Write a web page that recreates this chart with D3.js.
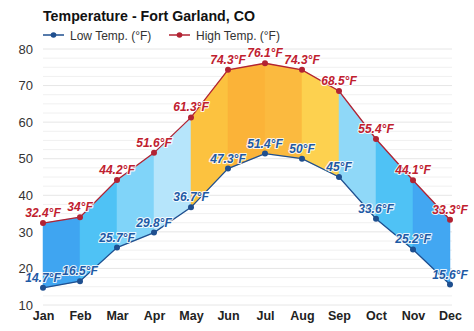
<!DOCTYPE html>
<html>
<head>
<meta charset="utf-8">
<script src="https://cdn.jsdelivr.net/npm/d3@7"></script>
<style>
  html, body { margin: 0; padding: 0; background: #fff; }
  svg { display: block; font-family: "Liberation Sans", Arial, sans-serif; }
</style>
</head>
<body>
<svg id="chart" width="474" height="331"></svg>
<script>
// Monthly averages for Fort Garland, CO
const months = ["Jan", "Feb", "Mar", "Apr", "May", "Jun", "Jul", "Aug", "Sep", "Oct", "Nov", "Dec"];
const highTemps = [32.4, 34, 44.2, 51.6, 61.3, 74.3, 76.1, 74.3, 68.5, 55.4, 44.1, 33.3];
const lowTemps = [14.7, 16.5, 25.7, 29.8, 36.7, 47.3, 51.4, 50, 45, 33.6, 25.2, 15.6];
const yTicks = [10, 20, 30, 40, 50, 60, 70, 80];

// Band colour between consecutive months (cold blues, warm oranges)
const bandColors = ["#3fa5f1", "#4fc2f5", "#80d4f9", "#b6e5fb", "#fcc23f", "#fbb338",
                    "#fbba3f", "#fdd14f", "#8fd8f8", "#4fc2f5", "#42a7f2"];

const svg = d3.select("#chart");
const x = d3.scalePoint().domain(months).range([43, 450]);
const y = d3.scaleLinear().domain([10, 80]).range([305, 49]);

// Light horizontal grid
const grid = svg.append("g");
grid.selectAll("line")
  .data(d3.range(10, 80.01, 2.5))
  .join("line")
  .attr("x1", 43).attr("x2", 452)
  .attr("y1", d => y(d)).attr("y2", d => y(d))
  .attr("stroke", d => d % 10 === 0 ? "#e6e6e6" : "#f0f0f0")
  .attr("stroke-width", 1);

// Y axis labels
const yAxis = svg.append("g")
  .attr("transform", "translate(33,0)")
  .call(d3.axisLeft(y).tickValues(yTicks).tickSize(0).tickPadding(0));
yAxis.select(".domain").remove();
yAxis.selectAll("text")
  .attr("font-size", 13)
  .attr("fill", "#333")
  .attr("font-family", "'Liberation Sans', Arial, sans-serif");

// X axis labels
const xAxis = svg.append("g")
  .attr("transform", "translate(0,311)")
  .call(d3.axisBottom(x).tickSize(0).tickPadding(0));
xAxis.select(".domain").remove();
xAxis.selectAll("text")
  .attr("font-size", 12.5)
  .attr("font-weight", "bold")
  .attr("fill", "#222")
  .attr("font-family", "'Liberation Sans', Arial, sans-serif");

// Filled bands between low and high for each month pair
const rows = months.map((m, i) => ({ m, hi: highTemps[i], lo: lowTemps[i] }));
const area = d3.area()
  .x(d => x(d.m))
  .y0(d => y(d.lo))
  .y1(d => y(d.hi));
svg.append("g").selectAll("path")
  .data(d3.range(months.length - 1))
  .join("path")
  .attr("d", i => area([rows[i], rows[i + 1]]))
  .attr("fill", i => bandColors[i])
  .attr("stroke", i => bandColors[i])
  .attr("stroke-width", 0.5);

// Lines and markers
const series = [
  { key: "lo", name: "Low Temp. (°F)", color: "#1f4f8f", label: "#1f5aa5" },
  { key: "hi", name: "High Temp. (°F)", color: "#b22333", label: "#c0202f" }
];
const line = key => d3.line().x(d => x(d.m)).y(d => y(d[key]));
const fmt = v => (Math.round(v * 10) / 10).toString() + "°F";

series.forEach(s => {
  svg.append("path")
    .datum(rows)
    .attr("d", line(s.key))
    .attr("fill", "none")
    .attr("stroke", s.color)
    .attr("stroke-width", 1.3);
  svg.append("g").selectAll("circle")
    .data(rows)
    .join("circle")
    .attr("cx", d => x(d.m))
    .attr("cy", d => y(d[s.key]))
    .attr("r", 3)
    .attr("fill", s.color);
});

series.forEach(s => {
  svg.append("g").selectAll("text")
    .data(rows)
    .join("text")
    .attr("x", d => x(d.m))
    .attr("y", d => y(d[s.key]) - 6)
    .attr("text-anchor", "middle")
    .attr("font-size", 12)
    .attr("font-weight", "bold")
    .attr("font-style", "italic")
    .attr("fill", s.label)
    .attr("stroke", "rgba(255,255,255,0.85)")
    .attr("stroke-width", 2.2)
    .attr("paint-order", "stroke")
    .attr("stroke-linejoin", "round")
    .text(d => fmt(d[s.key]));
});

// Title
svg.append("text")
  .attr("x", 43).attr("y", 21)
  .attr("font-size", 15)
  .attr("font-weight", "bold")
  .attr("fill", "#111")
  .attr("textLength", 212)
  .attr("lengthAdjust", "spacingAndGlyphs")
  .text("Temperature - Fort Garland, CO");

// Legend
const legend = svg.append("g").attr("transform", "translate(0,35)");
const legendX = [43, 169];
series.forEach((s, i) => {
  const g = legend.append("g").attr("transform", `translate(${legendX[i]},0)`);
  g.append("line").attr("x1", 0).attr("x2", 21).attr("y1", 0).attr("y2", 0)
    .attr("stroke", s.color).attr("stroke-width", 1.5);
  g.append("circle").attr("cx", 10.5).attr("cy", 0).attr("r", 2.8).attr("fill", s.color);
  g.append("text").attr("x", 27).attr("y", 4.5)
    .attr("font-size", 12).attr("fill", "#333")
    .text(s.name);
});
</script>
</body>
</html>
